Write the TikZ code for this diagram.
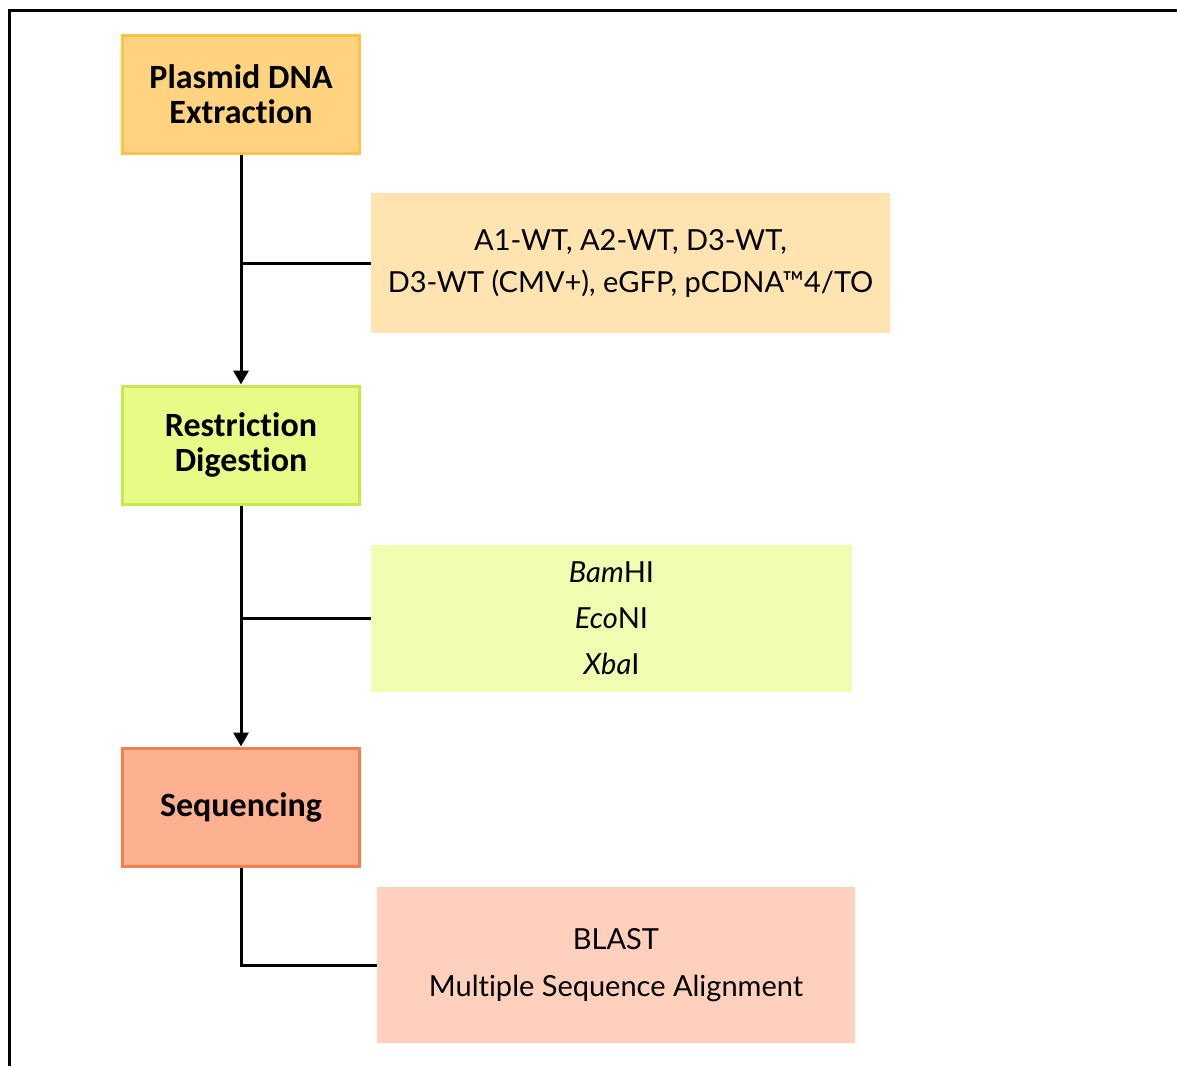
\documentclass[tikz,border=0pt]{standalone}
\usepackage{fontspec}
\setmainfont{Carlito}[Ligatures=NoCommon]
\newfontfamily\notefont{Lato}[Ligatures=NoCommon]
\usepackage{tikz}
\usetikzlibrary{arrows.meta, positioning}

\definecolor{stepA}{HTML}{FFD37F}
\definecolor{stepAline}{HTML}{FFC146}
\definecolor{noteA}{HTML}{FFE3B0}
\definecolor{stepB}{HTML}{E8FB86}
\definecolor{stepBline}{HTML}{C5EA4C}
\definecolor{noteB}{HTML}{F0FCB0}
\definecolor{stepC}{HTML}{FDB08F}
\definecolor{stepCline}{HTML}{F37F4E}
\definecolor{noteC}{HTML}{FFD0BC}

\begin{document}
\begin{tikzpicture}[
    x=0.5pt, y=-0.5pt,
    stepbox/.style={draw, line width=1.5pt, minimum width=118.5pt, minimum height=59pt,
        align=center, font=\fontsize{17}{17.5}\selectfont\bfseries},
    notebox/.style={inner sep=0pt, align=center, font=\notefont\fontsize{14.5}{21}\selectfont},
    arr/.style={-{Triangle[width=7.5pt, length=7pt]}, line width=1.5pt},
    link/.style={line width=1.5pt}
]
\useasboundingbox (0,0) rectangle (1177,1066);

% Frame
\draw[line width=1.5pt] (9,1066) -- (9,10) -- (1177,10);

% Main steps
\node[stepbox, fill=stepA, draw=stepAline] (extract) at (241,94.5) {Plasmid DNA\\Extraction};
\node[stepbox, fill=stepB, draw=stepBline] (digest) at (241,445) {Restriction\\Digestion};
\node[stepbox, fill=stepC, draw=stepCline] (seq) at (241,807) {Sequencing};

% Side notes
\node[notebox, fill=noteA, minimum width=259.5pt, minimum height=70pt] (plasmids) at (630.5,263)
    {A1-WT, A2-WT, D3-WT,\\D3-WT (CMV+), eGFP, pCDNA\texttrademark4/TO};
\node[notebox, fill=noteB, minimum width=240.5pt, minimum height=73.5pt,
    font=\notefont\fontsize{14.5}{23}\selectfont] (enzymes) at (611.5,618.5)
    {\textit{Bam}HI\\\textit{Eco}NI\\\textit{Xba}I};
\node[notebox, fill=noteC, minimum width=239pt, minimum height=78pt,
    font=\notefont\fontsize{14.5}{23.5}\selectfont] (analysis) at (616,965)
    {BLAST\\Multiple Sequence Alignment};

% Connectors
\draw[arr] (extract) -- (digest);
\draw[link] (extract.south |- plasmids.west) -- (plasmids.west);
\draw[arr] (digest) -- (seq);
\draw[link] (digest.south |- enzymes.west) -- (enzymes.west);
\draw[link] (seq.south) |- (analysis.west);
\end{tikzpicture}
\end{document}
